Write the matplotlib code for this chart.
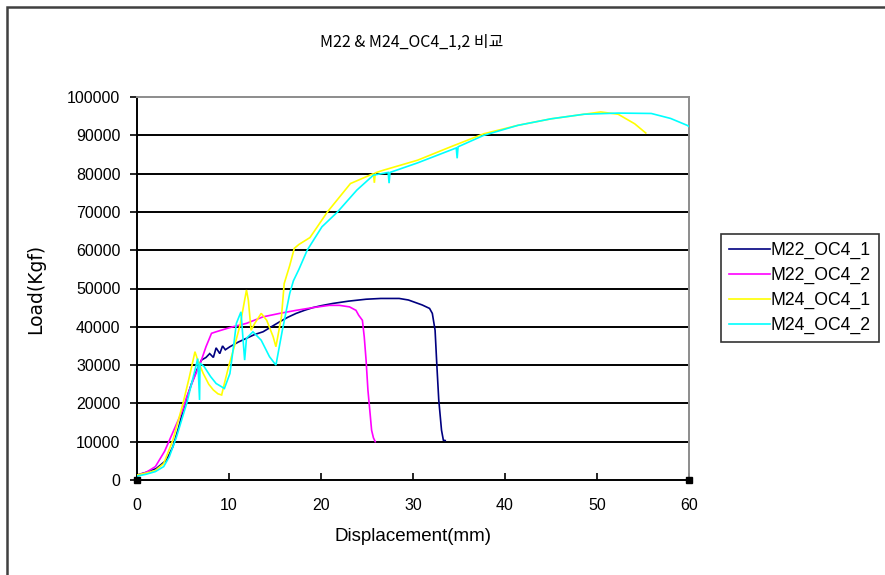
import matplotlib
matplotlib.use("Agg")
import matplotlib.pyplot as plt
from matplotlib.patches import Rectangle

plt.rcParams['font.family'] = ['Liberation Sans', 'Noto Sans CJK KR', 'DejaVu Sans']

title = "M22 & M24_OC4_1,2 비교"
x_label = "Displacement(mm)"
y_label = "Load(Kgf)"
series_names = ["M22_OC4_1", "M22_OC4_2", "M24_OC4_1", "M24_OC4_2"]
series_colors = ["#000080", "#FF00FF", "#FFFF00", "#00FFFF"]

# M22_OC4_1
m22_1_x = [0, 1.0, 2.1, 3.2, 3.9, 4.5, 5.0, 5.5, 5.9, 6.5, 7.0, 7.5, 7.9, 8.3, 8.6, 9.0,
           9.3, 9.6, 10.1, 11.0, 11.9, 12.8, 13.7, 14.6, 15.5, 16.4, 17.3, 18.2, 19.1,
           20.0, 21.3, 23.0, 24.9, 26.5, 28.5, 29.5, 31.0, 31.8, 32.1, 32.4, 32.6, 32.8,
           33.1, 33.3, 33.5]
m22_1_y = [1300, 2000, 3000, 5200, 8700, 13500, 18000, 22000, 25000, 28700, 31300, 32000,
           33000, 32000, 34500, 33000, 35000, 34000, 34800, 36000, 37000, 38000, 38700,
           40000, 41300, 42500, 43500, 44300, 45000, 45500, 46100, 46700, 47200, 47400,
           47400, 47000, 45700, 44800, 43500, 39100, 29600, 20900, 13000, 10400, 10300]

# M22_OC4_2
m22_2_x = [0, 1.0, 2.0, 3.0, 4.0, 5.0, 5.4, 6.1, 7.0, 7.5, 8.1, 8.6, 10.1, 11.9, 13.7,
           15.5, 17.3, 19.1, 20.9, 22.0, 23.1, 23.8, 24.1, 24.5, 24.7, 24.9, 25.1, 25.3,
           25.5, 25.7, 25.9]
m22_2_y = [1200, 2000, 3500, 7500, 13000, 18500, 21700, 26000, 31300, 34800, 38300, 38700,
           39800, 40900, 42600, 43500, 44300, 45000, 45600, 45600, 45200, 44300, 43000,
           41700, 37400, 31300, 23500, 18300, 13000, 11000, 10000]

# M24_OC4_1
m24_1_x = [0, 1.0, 2.0, 2.9, 3.9, 5.0, 5.7, 6.1, 6.3, 6.6, 7.2, 7.8, 8.3, 8.8, 9.2, 9.5,
           10.0, 10.6, 11.2, 11.9, 12.1, 12.4, 12.8, 13.5, 14.1, 14.8, 15.1, 15.7, 16.0,
           16.6, 17.1, 17.6, 18.8, 20.7, 23.2, 25.7, 25.8, 25.9, 26.8, 30.5, 34.1, 37.7,
           41.4, 45.0, 48.6, 50.4, 52.3, 54.1, 55.3]
m24_1_y = [1300, 1800, 2500, 4300, 10400, 20000, 27000, 31300, 33500, 31300, 27800, 25000,
           23500, 22500, 22200, 25200, 30000, 35000, 40400, 49600, 47000, 39100, 40900,
           43500, 41700, 37400, 34800, 42600, 51300, 56000, 60500, 61500, 63300, 70000,
           77400, 80000, 77600, 80200, 80900, 83500, 87000, 90400, 92600, 94300, 95500,
           96100, 95500, 93000, 90600]

# M24_OC4_2
m24_2_x = [0, 1.0, 2.0, 2.9, 3.5, 4.3, 5.4, 6.3, 6.6, 6.8, 6.85, 7.3, 8.0, 8.6, 9.5, 10.1,
           10.5, 10.8, 11.3, 11.7, 11.9, 12.6, 13.5, 14.4, 15.1, 15.8, 16.6, 17.0, 17.6,
           18.5, 20.1, 21.8, 23.9, 25.7, 27.3, 27.4, 27.5, 30.5, 34.7, 34.8, 34.9, 37.7,
           41.4, 45.0, 48.6, 52.3, 55.9, 58.0, 59.8, 60.0]
m24_2_y = [1000, 1500, 2200, 3500, 6000, 11300, 20000, 28700, 31700, 20900, 30500, 29600,
           27000, 25200, 23900, 27800, 35000, 40900, 43900, 31300, 37000, 38700, 36500,
           32200, 30000, 39100, 48700, 52000, 55000, 60000, 66100, 70000, 75700, 79600,
           80300, 77500, 80300, 82800, 86700, 84000, 87000, 90000, 92600, 94300, 95500,
           95800, 95700, 94400, 92600, 92300]

# corner anchor points on the x axis
anchor_x = [0, 60]
anchor_y = [0, 0]

x_ticks = [0, 10, 20, 30, 40, 50, 60]
y_ticks = [0, 10000, 20000, 30000, 40000, 50000, 60000, 70000, 80000, 90000, 100000]

W, H = 885, 575
fig = plt.figure(figsize=(W / 100, H / 100), dpi=100)
ax = fig.add_axes([137 / W, 1 - 480 / H, (689 - 137) / W, (480 - 97) / H])

series = [(m22_1_x, m22_1_y), (m22_2_x, m22_2_y), (m24_1_x, m24_1_y), (m24_2_x, m24_2_y)]
for (xs, ys), name, color in zip(series, series_names, series_colors):
    ax.plot(xs, ys, color=color, lw=1.2, label=name, solid_joinstyle='miter', zorder=3)

ax.plot(anchor_x, anchor_y, linestyle='none', marker='s', ms=5, color='black',
        clip_on=False, zorder=5)

ax.set_xlim(0, 60)
ax.set_ylim(0, 100000)
ax.set_xticks(x_ticks)
ax.set_yticks(y_ticks)
ax.set_xticklabels([str(v) for v in x_ticks], fontsize=11.5)
ax.set_yticklabels([str(v) for v in y_ticks], fontsize=11.5)
ax.tick_params(axis='x', direction='in', length=5, width=1.2, pad=13, color='black')
ax.tick_params(axis='y', direction='out', length=5, width=1.2, pad=7, color='black')

for y in y_ticks[1:-1]:
    ax.axhline(y, color='black', lw=1.4, zorder=1)

for side in ('top', 'right'):
    ax.spines[side].set_color('#8c8c8c')
    ax.spines[side].set_linewidth(1.4)
for side in ('left', 'bottom'):
    ax.spines[side].set_color('black')
    ax.spines[side].set_linewidth(1.4)

ax.set_xlabel(x_label, fontsize=13.5, labelpad=11)
ax.set_ylabel(y_label, fontsize=13.5, labelpad=16, family=['DejaVu Sans'])
fig.text(412 / W, 1 - 42 / H, title, fontsize=11.5, ha='center', va='center',
         family=['Noto Sans CJK KR', 'DejaVu Sans'])

leg = fig.legend(loc='upper left', bbox_to_anchor=(721 / W, 1 - 234 / H),
                 fontsize=12.7, frameon=True, fancybox=False, shadow=False,
                 handlelength=2.3, handletextpad=0.08, labelspacing=0.45,
                 borderpad=0.45, borderaxespad=0)
leg.get_frame().set_edgecolor('black')
leg.get_frame().set_linewidth(1.2)

# outer chart border
fig.patches.append(Rectangle((7 / W, -0.05), 1.0, 1 - 7 / H + 0.05,
                             transform=fig.transFigure, fill=False,
                             edgecolor='#404040', lw=1.8, zorder=10))

fig.savefig("out.png", dpi=100)
